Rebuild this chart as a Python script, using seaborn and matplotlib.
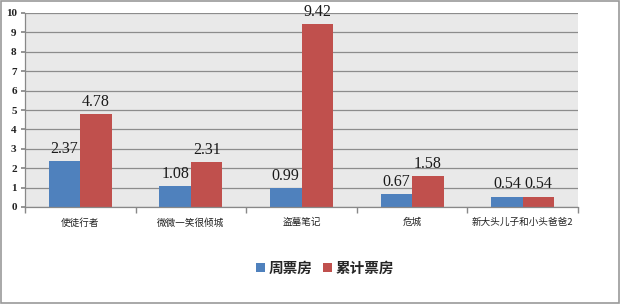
import matplotlib
matplotlib.use("Agg")
import matplotlib.pyplot as plt
import seaborn as sns
import pandas as pd
from matplotlib.patches import Rectangle, Patch

categories = ["使徒行者", "微微一笑很倾城", "盗墓笔记", "危城", "新大头儿子和小头爸爸2"]
weekly = [2.37, 1.08, 0.99, 0.67, 0.54]
total = [4.78, 2.31, 9.42, 1.58, 0.54]
series_names = ["周票房", "累计票房"]
yticks = list(range(0, 11))

df = pd.DataFrame({
    "cat": categories * 2,
    "val": weekly + total,
    "series": [series_names[0]] * 5 + [series_names[1]] * 5,
})

sns.set_theme(style="white")
plt.rcParams['font.family'] = ['Liberation Serif', 'Noto Sans CJK SC', 'DejaVu Sans']

fig = plt.figure(figsize=(6.2, 3.04), dpi=100)
ax = fig.add_axes([25/620, 1 - 207/304, (578-25)/620, (207-13)/304])

colors = ["#4F81BD", "#C0504D"]
sns.barplot(data=df, x="cat", y="val", hue="series", palette=colors, ax=ax,
            width=0.57, edgecolor=None, linewidth=0, saturation=1, legend=False)

ax.set_facecolor("#E9E9E9")
ax.set_ylim(0, 10)
ax.set_xlim(-0.5, 4.5)
ax.set_yticks(yticks)
ax.set_yticklabels([str(t) for t in yticks], fontsize=8, family=['Liberation Serif'],
                   fontweight='bold', color="#222222")
ax.yaxis.grid(True, color="#8C8C8C", linewidth=0.9)
ax.set_axisbelow(True)
ax.set_xlabel("")
ax.set_ylabel("")
ax.set_xticks(range(5))
ax.set_xticklabels(categories, fontsize=6.9, family=['Noto Sans CJK SC', 'DejaVu Sans'],
                   fontweight='medium', color="#222222")
ax.tick_params(axis='x', length=0, pad=8)
ax.tick_params(axis='y', length=3, color="#888888", left=True, pad=3)
ax.set_xticks([-0.5, 0.5, 1.5, 2.5, 3.5, 4.5], minor=True)
ax.tick_params(axis='x', which='minor', length=4, color="#888888", bottom=True)

for s in ["top", "right"]:
    ax.spines[s].set_visible(False)
for s in ["left", "bottom"]:
    ax.spines[s].set_color("#888888")
    ax.spines[s].set_linewidth(0.9)

for cont in ax.containers:
    ax.bar_label(cont, labels=[f"{v:.2f}" for v in cont.datavalues], padding=3,
                 fontsize=11.5, family=['Liberation Serif'], color="#1a1a1a")

handles = [Patch(facecolor=c, edgecolor='none') for c in colors]
fig.legend(handles, series_names, loc="center", bbox_to_anchor=(325/620, 1 - 268/304),
           ncol=2, frameon=False, handlelength=0.6, handleheight=0.6,
           handletextpad=0.25, columnspacing=0.7,
           prop={'family': ['Noto Sans CJK SC', 'DejaVu Sans'], 'size': 10.5, 'weight': 'bold'})

fig.add_artist(Rectangle((0.001, 0.002), 0.997, 0.995, transform=fig.transFigure,
                         fill=False, edgecolor="#999999", linewidth=1.2))

fig.savefig("out.png", dpi=100)
